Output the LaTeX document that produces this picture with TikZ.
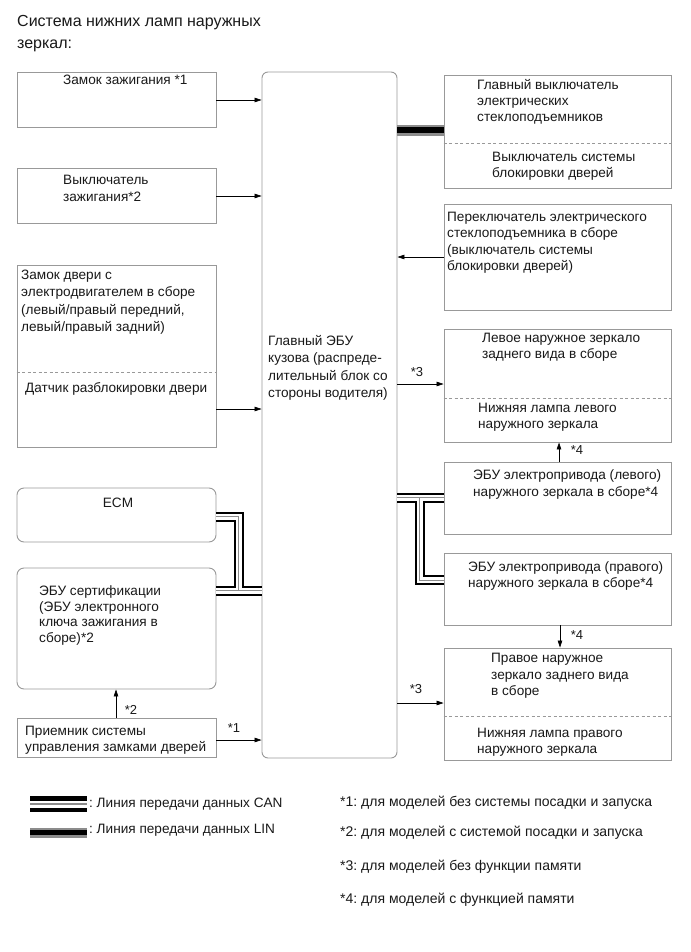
\documentclass[tikz,border=0pt]{standalone}
\usepackage{fontspec}
\setmainfont{Liberation Sans}
\usetikzlibrary{arrows.meta,fit}
\AtBeginDocument{\frenchspacing}
\begin{document}
\begin{tikzpicture}[x=1pt,y=-1pt,
  box/.style={draw=black!40, line width=0.9pt, inner sep=0pt, rectangle},
  rbox/.style={box, rounded corners=7pt},
  mbox/.style={box, rounded corners=6pt},
  sep/.style={draw=black!40, line width=0.8pt, dash pattern=on 3pt off 2.5pt},
  arr/.style={draw=black, line width=0.7pt, -{Triangle[length=7pt,width=4.5pt]}},
  can/.style={draw=black, line width=10pt, postaction={draw=white, line width=6pt}, postaction={draw=black!45, line width=1pt}},
  lin/.style={draw=black!45, line width=11pt, postaction={draw=black, line width=6pt}},
  canleg/.style={draw=black, line width=16pt, postaction={draw=white, line width=7pt}, postaction={draw=black!45, line width=1.5pt}},
  linleg/.style={draw=black!45, line width=10pt, postaction={draw=black, line width=5.5pt}},
  txt/.style={anchor=base west, inner sep=0pt, align=left, text=black!90, font=\fontsize{13.6}{#1}\selectfont},
  txt/.default=16.5,
  note/.style={font=\fontsize{14}{16}\selectfont},
  ttl/.style={anchor=base west, inner sep=0pt, align=left, text=black!90, font=\fontsize{16}{22}\selectfont},
  lbl/.style={anchor=center, inner sep=0pt, text=black!90, font=\fontsize{13}{14}\selectfont}
]
\useasboundingbox (0,0) rectangle (690,952);
\fill[white] (0,0) rectangle (690,952);

% title
\node[ttl] (title) at (17,49) {Система нижних ламп наружных\\зеркал:};

% boxes
\node[box, fit={(17,72)(216,127)}] (zz) {};
\node[box, fit={(17,168)(216,223)}] (vz) {};
\node[box, fit={(17,265)(216,447)}] (dl) {};
\node[rbox, fit={(17,488)(216,542)}] (ecm) {};
\node[rbox, fit={(17,568)(216,689)}] (cert) {};
\node[box, fit={(17,718)(216,757)}] (rec) {};
\node[mbox, fit={(262,72)(397,758)}] (main) {};
\node[box, fit={(444,75)(671,188)}] (r1) {};
\node[box, fit={(444,204)(671,310)}] (r2) {};
\node[box, fit={(444,329)(671,442)}] (r3) {};
\node[box, fit={(444,462)(671,534)}] (r4) {};
\node[box, fit={(444,553)(671,625)}] (r5) {};
\node[box, fit={(444,648)(671,760)}] (r6) {};

% separators
\draw[sep] (dl.west |- 0,372) -- (dl.east |- 0,372);
\draw[sep] (r1.west |- 0,143) -- (r1.east |- 0,143);
\draw[sep] (r3.west |- 0,398) -- (r3.east |- 0,398);
\draw[sep] (r6.west |- 0,716) -- (r6.east |- 0,716);

% texts (base = baseline of the last line)
\node[txt] (tzz) at (63,84.5) {Замок зажигания *1};
\node[txt=17] (tvz) at (63,201.5) {Выключатель\\зажигания*2};
\node[txt=17.3] (tdl) at (21,331.5) {Замок двери с\\электродвигателем в сборе\\(левый/правый передний,\\левый/правый задний)};
\node[txt] (tds) at (25,392.5) {Датчик разблокировки двери};
\node[txt, anchor=base] (tecm) at (118,507.5) {ECM};
\node[txt=15.7] (tcert) at (39,642.5) {ЭБУ сертификации\\(ЭБУ электронного\\ключа зажигания в\\сборе)*2};
\node[txt=16] (trec) at (25,751.5) {Приемник системы\\управления замками дверей};
\node[txt=17.4] (tmain) at (268,397.5) {Главный ЭБУ\\кузова (распреде-\\лительный блок со\\стороны водителя)};
\node[txt=16] (tr1) at (477,121.5) {Главный выключатель\\электрических\\стеклоподъемников};
\node[txt=16] (tr1b) at (492,177.5) {Выключатель системы\\блокировки дверей};
\node[txt=16.3] (tr2) at (447,270.5) {Переключатель электрического\\стеклоподъемника в сборе\\(выключатель системы\\блокировки дверей)};
\node[txt=16] (tr3) at (482,358.5) {Левое наружное зеркало\\заднего вида в сборе};
\node[txt=16] (tr3b) at (478,428.5) {Нижняя лампа левого\\наружного зеркала};
\node[txt=17] (tr4) at (473,496.5) {ЭБУ электропривода (левого)\\наружного зеркала в сборе*4};
\node[txt=16] (tr5) at (468,587.5) {ЭБУ электропривода (правого)\\наружного зеркала в сборе*4};
\node[txt=16.5] (tr6) at (491,695.5) {Правое наружное\\зеркало заднего вида\\в сборе};
\node[txt=16] (tr6b) at (477,753.5) {Нижняя лампа правого\\наружного зеркала};

% arrows
\draw[arr] (zz.east |- 0,100) -- (main.west |- 0,100);
\draw[arr] (vz.east |- 0,196) -- (main.west |- 0,196);
\draw[arr] (dl.east |- 0,409) -- (main.west |- 0,409);
\draw[arr] (rec.east |- 0,740) -- (main.west |- 0,740);
\draw[arr] (rec.north -| 116,0) -- (cert.south -| 116,0);
\draw[arr] (r2.west |- 0,257) -- (main.east |- 0,257);
\draw[arr] (main.east |- 0,384) -- (r3.west |- 0,384);
\draw[arr] (r4.north -| 559,0) -- (r3.south -| 559,0);
\draw[arr] (r5.south -| 560,0) -- (r6.north -| 560,0);
\draw[arr] (main.east |- 0,703) -- (r6.west |- 0,703);

% arrow labels
\node[lbl] (l1) at (234,728) {*1};
\node[lbl] (l2) at (131,710) {*2};
\node[lbl] (l3a) at (417,372) {*3};
\node[lbl] (l4a) at (577,450) {*4};
\node[lbl] (l4b) at (577,635) {*4};
\node[lbl] (l3b) at (416,689) {*3};

% CAN and LIN buses
\coordinate (jL) at (238.5,590.5);
\coordinate (jR) at (419.5,497.5);
\draw[can] (ecm.east |- 0,516.5) -| (jL) (cert.east |- 0,590.5) -- (main.west |- 0,590.5);
\draw[can] (main.east |- 0,497.5) -- (r4.west |- 0,497.5) (jR) |- (r5.west |- 0,580);
\draw[lin] (main.east |- 0,130.5) -- (r1.west |- 0,130.5);

% legend
\coordinate (cl1) at (30,804);
\coordinate (cl2) at (87,804);
\draw[canleg] (cl1) -- (cl2);
\node[txt] (lcan) at (89,807.5) {: Линия передачи данных CAN};
\coordinate (ll1) at (30,832.5);
\coordinate (ll2) at (87,832.5);
\draw[linleg] (ll1) -- (ll2);
\node[txt] (llin) at (89,833.5) {: Линия передачи данных LIN};

\node[txt, note] (f1) at (340,806.5) {*1: для моделей без системы посадки и запуска};
\node[txt, note] (f2) at (340,836.5) {*2: для моделей с системой посадки и запуска};
\node[txt, note] (f3) at (340,870.5) {*3: для моделей без функции памяти};
\node[txt, note] (f4) at (340,903.5) {*4: для моделей с функцией памяти};
\end{tikzpicture}
\end{document}
